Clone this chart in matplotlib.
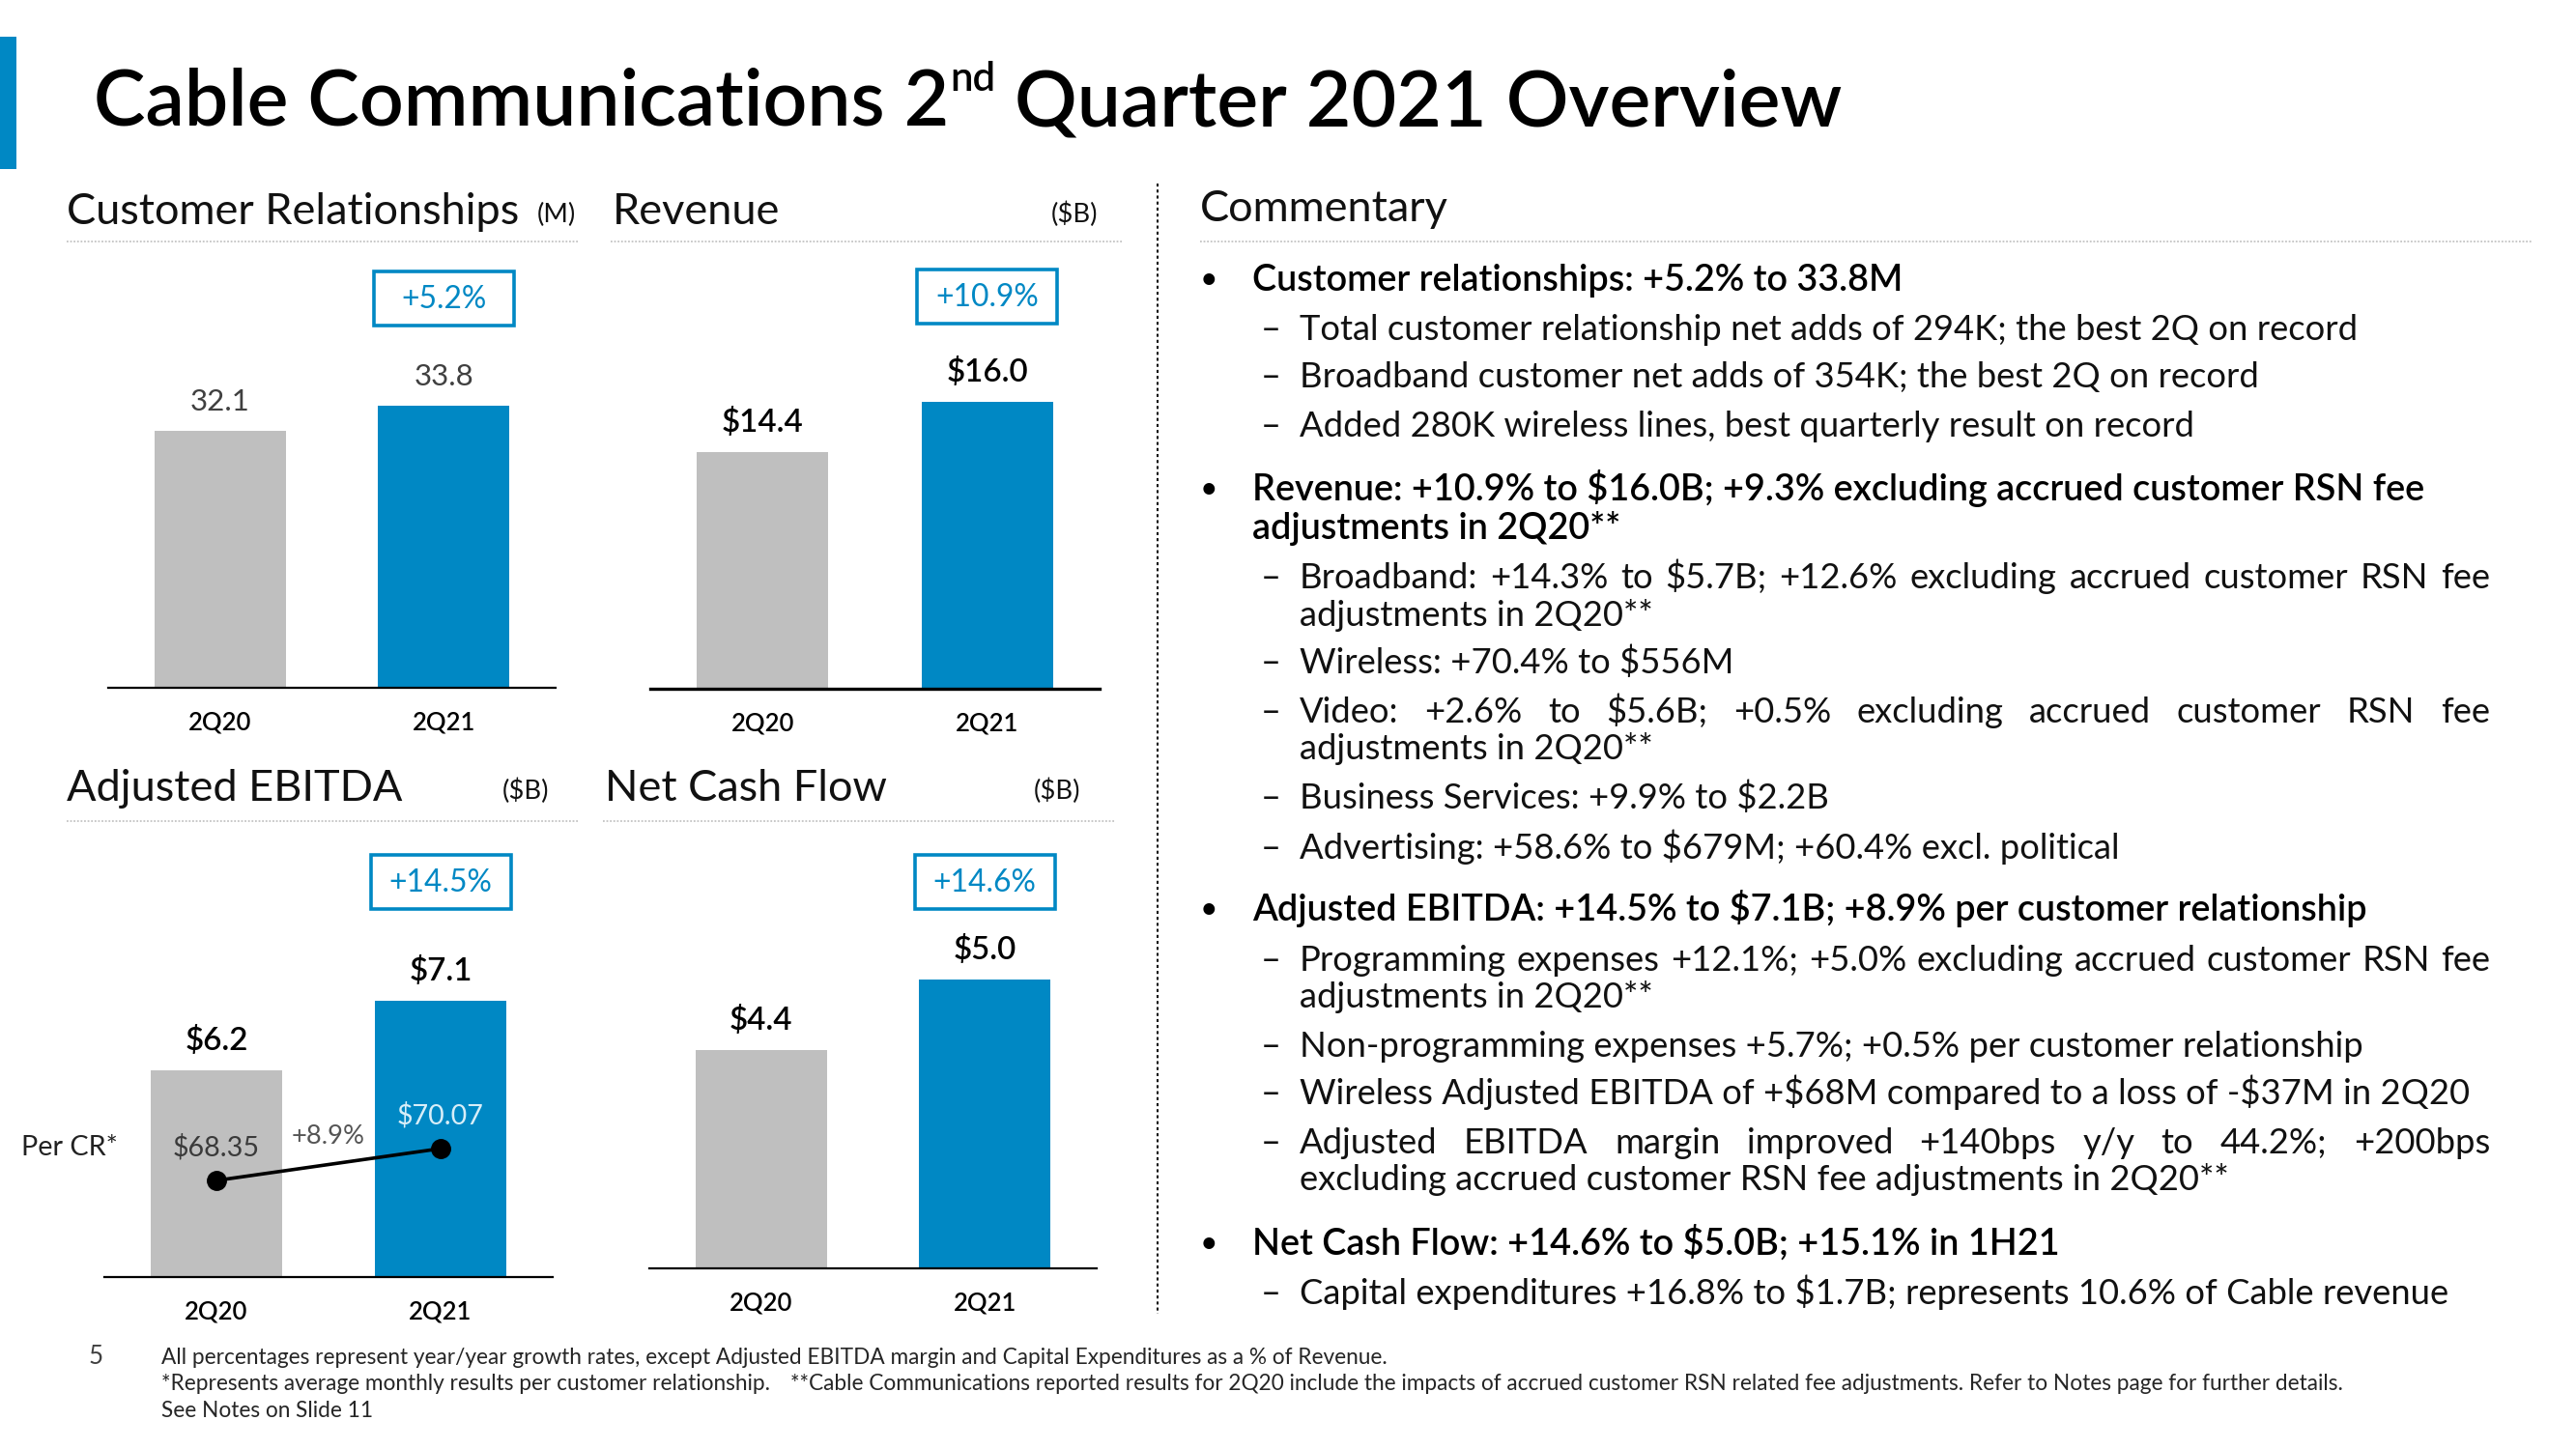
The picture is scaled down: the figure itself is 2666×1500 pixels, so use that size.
import matplotlib
matplotlib.use('Agg')
import matplotlib.pyplot as plt
from matplotlib.patches import Rectangle
from matplotlib.lines import Line2D
import numpy as np

# ---------------- data ----------------
categories = ['2Q20', '2Q21']
cust_rel = [32.1, 33.8]
revenue = [14.4, 16.0]
adj_ebitda = [6.2, 7.1]
net_cash_flow = [4.4, 5.0]
ebitda_per_cr = [68.35, 70.07]
growth_labels = ['+5.2%', '+10.9%', '+14.5%', '+14.6%']
per_cr_growth = '+8.9%'

title_parts = ['Cable Communications 2', 'nd', ' Quarter 2021 Overview']
panel_titles = ['Customer Relationships', 'Revenue', 'Adjusted EBITDA', 'Net Cash Flow']
panel_units = ['(M)', '($B)', '($B)', '($B)']

commentary = [
    ('b', 'Customer relationships: +5.2% to 33.8M'),
    ('s', 'Total customer relationship net adds of 294K; the best 2Q on record'),
    ('s', 'Broadband customer net adds of 354K; the best 2Q on record'),
    ('s', 'Added 280K wireless lines, best quarterly result on record'),
    ('b', 'Revenue: +10.9% to $16.0B; +9.3% excluding accrued customer RSN fee'),
    ('bc', 'adjustments in 2Q20**'),
    ('sj', 'Broadband: +14.3% to $5.7B; +12.6% excluding accrued customer RSN fee'),
    ('sc', 'adjustments in 2Q20**'),
    ('s', 'Wireless: +70.4% to $556M'),
    ('sj', 'Video: +2.6% to $5.6B; +0.5% excluding accrued customer RSN fee'),
    ('sc', 'adjustments in 2Q20**'),
    ('s', 'Business Services: +9.9% to $2.2B'),
    ('s', 'Advertising: +58.6% to $679M; +60.4% excl. political'),
    ('b', 'Adjusted EBITDA: +14.5% to $7.1B; +8.9% per customer relationship'),
    ('sj', 'Programming expenses +12.1%; +5.0% excluding accrued customer RSN fee'),
    ('sc', 'adjustments in 2Q20**'),
    ('s', 'Non-programming expenses +5.7%; +0.5% per customer relationship'),
    ('s', 'Wireless Adjusted EBITDA of +$68M compared to a loss of -$37M in 2Q20'),
    ('sj', 'Adjusted EBITDA margin improved +140bps y/y to 44.2%; +200bps'),
    ('sc', 'excluding accrued customer RSN fee adjustments in 2Q20**'),
    ('b', 'Net Cash Flow: +14.6% to $5.0B; +15.1% in 1H21'),
    ('s', 'Capital expenditures +16.8% to $1.7B; represents 10.6% of Cable revenue'),
]

footnotes = [
    'All percentages represent year/year growth rates, except Adjusted EBITDA margin and Capital Expenditures as a % of Revenue.',
    '*Represents average monthly results per customer relationship.',
    '**Cable Communications reported results for 2Q20 include the impacts of accrued customer RSN related fee adjustments. Refer to Notes page for further details.',
    'See Notes on Slide 11',
]
page_number = '5'

# ---------------- style / layout ----------------
W, H = 2666, 1500
BLUE = '#0088C4'
GRAY = '#BFBFBF'
plt.rcParams['font.family'] = ['Lato', 'DejaVu Sans']
plt.rcParams['text.parse_math'] = False

fig = plt.figure(figsize=(W / 100, H / 100), dpi=100)
bg = fig.add_axes([0, 0, 1, 1])
bg.set_xlim(0, W)
bg.set_ylim(H, 0)
bg.axis('off')
renderer = fig.canvas.get_renderer()


def width_of(t):
    return t.get_window_extent(renderer).width


def size_for(s, target, ref=20, **kw):
    t = bg.text(0, 0, s, fontsize=ref, **kw)
    w = width_of(t)
    t.remove()
    return ref * target / w


# left accent bar
bg.add_patch(Rectangle((0, 38), 17, 137, color=BLUE, lw=0))

# title with superscript
def draw_title(fs):
    x = 97
    arts = []
    for i, part in enumerate(title_parts):
        if i == 1:
            t = bg.text(x + 1, 130 - fs * 0.62, part, fontsize=fs * 0.52,
                        fontweight='semibold', va='baseline', color='black')
        else:
            t = bg.text(x, 130, part, fontsize=fs, fontweight='semibold',
                        va='baseline', color='black')
        arts.append(t)
        x += width_of(t) + (1 if i == 1 else 0)
    return arts, x - 97

arts, tw = draw_title(40)
for a in arts:
    a.remove()
arts, tw = draw_title(40 * 1812 / tw)

# panel headers
HEAD_C = '#111111'
fs_head = size_for(panel_titles[0], 470)
fs_unit = size_for('($B)', 48)
head_pos = [(69, 232, 556), (634, 232, 1088), (69, 829, 520), (626, 829, 1070)]
for (x, y, ux), ttl, un in zip(head_pos, panel_titles, panel_units):
    bg.text(x, y, ttl, fontsize=fs_head, va='baseline', color=HEAD_C)
    bg.text(ux, y - 2, un, fontsize=fs_unit, va='baseline', color=HEAD_C)
bg.text(1242, 229, 'Commentary', fontsize=fs_head, va='baseline', color=HEAD_C)

# dotted separators
for x0, x1, y in [(69, 599, 250), (632, 1162, 250), (1242, 2621, 250),
                  (69, 599, 850), (624, 1154, 850)]:
    bg.add_line(Line2D([x0, x1], [y, y], color='#C4C4C4', lw=1.3, ls=(0, (1, 1))))
# vertical dashed divider
bg.add_line(Line2D([1198, 1198], [190, 1360], color='black', lw=1.4, ls=(0, (1.6, 1.6))))

# ---------------- charts ----------------
fs_val_plain = size_for('32.1', 57) * 1.08
fs_val_bold = size_for('$14.4', 80, fontweight='semibold') * 1.06
fs_tick = size_for('2Q20', 65, fontweight='semibold')
fs_box = size_for('+5.2%', 88)

panels = [
    dict(values=cust_rel, left=112, right=575, base=712, v0=14.7, ppu=15.3,
         fmt='{:.1f}', bold=False, box_top=281, lw=1.6),
    dict(values=revenue, left=673, right=1138, base=713, v0=6.86, ppu=32.5,
         fmt='${:.1f}', bold=True, box_top=279, lw=2.4),
    dict(values=adj_ebitda, left=108, right=572, base=1322, v0=3.525, ppu=80.0,
         fmt='${:.1f}', bold=True, box_top=885, lw=1.6),
    dict(values=net_cash_flow, left=672, right=1135, base=1313, v0=2.543, ppu=121.7,
         fmt='${:.1f}', bold=True, box_top=885, lw=1.6),
]
AX_H = 470
axes = []
for p, glabel in zip(panels, growth_labels):
    ax = fig.add_axes([p['left'] / W, (H - p['base']) / H,
                       (p['right'] - p['left']) / W, AX_H / H])
    ax.set_facecolor('none')
    x = np.arange(len(categories))
    ax.bar(x, p['values'], width=0.587, color=[GRAY, BLUE], zorder=2)
    ax.set_xlim(-0.5, 1.5)
    ax.set_ylim(p['v0'], p['v0'] + AX_H / p['ppu'])
    for s in ['top', 'left', 'right']:
        ax.spines[s].set_visible(False)
    ax.spines['bottom'].set_linewidth(p['lw'])
    ax.spines['bottom'].set_color('black')
    ax.set_yticks([])
    ax.set_xticks(x, categories)
    ax.tick_params(axis='x', length=0, pad=17, labelsize=fs_tick)
    for lab in ax.get_xticklabels():
        lab.set_fontweight('semibold')
    for i, v in enumerate(p['values']):
        ax.annotate(p['fmt'].format(v), (i, v), xytext=(0, 15), textcoords='offset points',
                    ha='center', va='baseline',
                    fontsize=fs_val_bold if p['bold'] else fs_val_plain,
                    fontweight='semibold' if p['bold'] else 'normal',
                    color='black' if p['bold'] else '#404040')
    # growth box above the 2Q21 bar
    cx = ax.transData.transform((1, p['v0']))[0]
    bg.add_patch(Rectangle((cx - 72.5, p['box_top']), 145, 56, fill=False,
                           edgecolor=BLUE, lw=2.6))
    bg.text(cx, p['box_top'] + 29, glabel, ha='center', va='center',
            fontsize=fs_box, color=BLUE)
    axes.append(ax)

# per customer relationship line on the EBITDA panel
ax = axes[2]
ax2 = ax.twinx()
ax2.set_facecolor('none')
w0, ppu2 = 63.14, 19.19
ax2.set_ylim(w0, w0 + AX_H / ppu2)
for s in ax2.spines.values():
    s.set_visible(False)
ax2.set_yticks([])
ax2.plot([0, 1], ebitda_per_cr, color='black', lw=2.6, marker='o', ms=14, zorder=5)
fs_cr = size_for('$68.35', 90)
cr_colors = ['#3A3A3A', '#D8EEF8']
for i, v in enumerate(ebitda_per_cr):
    ax2.annotate('${:.2f}'.format(v), (i, v), xytext=(0, 25), textcoords='offset points',
                 ha='center', va='center', fontsize=fs_cr, color=cr_colors[i])
ax2.annotate(per_cr_growth, (0.5, np.mean(ebitda_per_cr)), xytext=(0, 21),
             textcoords='offset points', ha='center', va='center',
             fontsize=fs_cr * 0.95, color='#555555')
bg.text(22, 1188, 'Per CR*', fontsize=fs_cr, va='center', color='#222222')

# ---------------- commentary ----------------
fs_sub = size_for(commentary[1][1], 1097)
fs_bold = size_for(commentary[0][1], 674, fontweight='semibold')
baselines = [301, 352, 401, 452, 518, 558, 609, 648, 697, 748, 786, 837, 889,
             953, 1005, 1043, 1094, 1143, 1194, 1232, 1299, 1350]
X_BUL, X_BOLD, X_DASH, X_SUB, X_RIGHT = 1251, 1296, 1305, 1345, 2577


def justified(x0, x1, y, s, fs, **kw):
    words = s.split(' ')
    ts = [bg.text(0, y, w, fontsize=fs, **kw) for w in words]
    ws = [width_of(t) for t in ts]
    gap = (x1 - x0 - sum(ws)) / (len(words) - 1)
    xx = x0
    for t, w in zip(ts, ws):
        t.set_x(xx)
        xx += w + gap


for (kind, txt), y in zip(commentary, baselines):
    if kind == 'b':
        bg.text(X_BUL, y - 2, '•', fontsize=fs_bold * 0.85, ha='center', va='baseline', color='black')
    if kind in ('b', 'bc'):
        bg.text(X_BOLD, y, txt, fontsize=fs_bold, fontweight='semibold', va='baseline', color='black')
    else:
        if kind in ('s', 'sj'):
            bg.text(X_DASH, y, '–', fontsize=fs_sub, va='baseline', color='#111111')
        if kind == 'sj':
            justified(X_SUB, X_RIGHT, y, txt, fs_sub, va='baseline', color='#111111')
        else:
            bg.text(X_SUB, y, txt, fontsize=fs_sub, va='baseline', color='#111111')

# ---------------- footnotes ----------------
fs_foot = size_for(footnotes[0], 1268)
bg.text(99, 1412, page_number, fontsize=fs_foot * 1.15, ha='center', va='baseline', color='#404040')
bg.text(167, 1412, footnotes[0], fontsize=fs_foot, va='baseline', color='#262626')
bg.text(167, 1439, footnotes[1], fontsize=fs_foot, va='baseline', color='#262626')
bg.text(818, 1439, footnotes[2], fontsize=fs_foot, va='baseline', color='#262626')
bg.text(167, 1467, footnotes[3], fontsize=fs_foot, va='baseline', color='#262626')

fig.savefig('out.png', dpi=100, facecolor='white')
